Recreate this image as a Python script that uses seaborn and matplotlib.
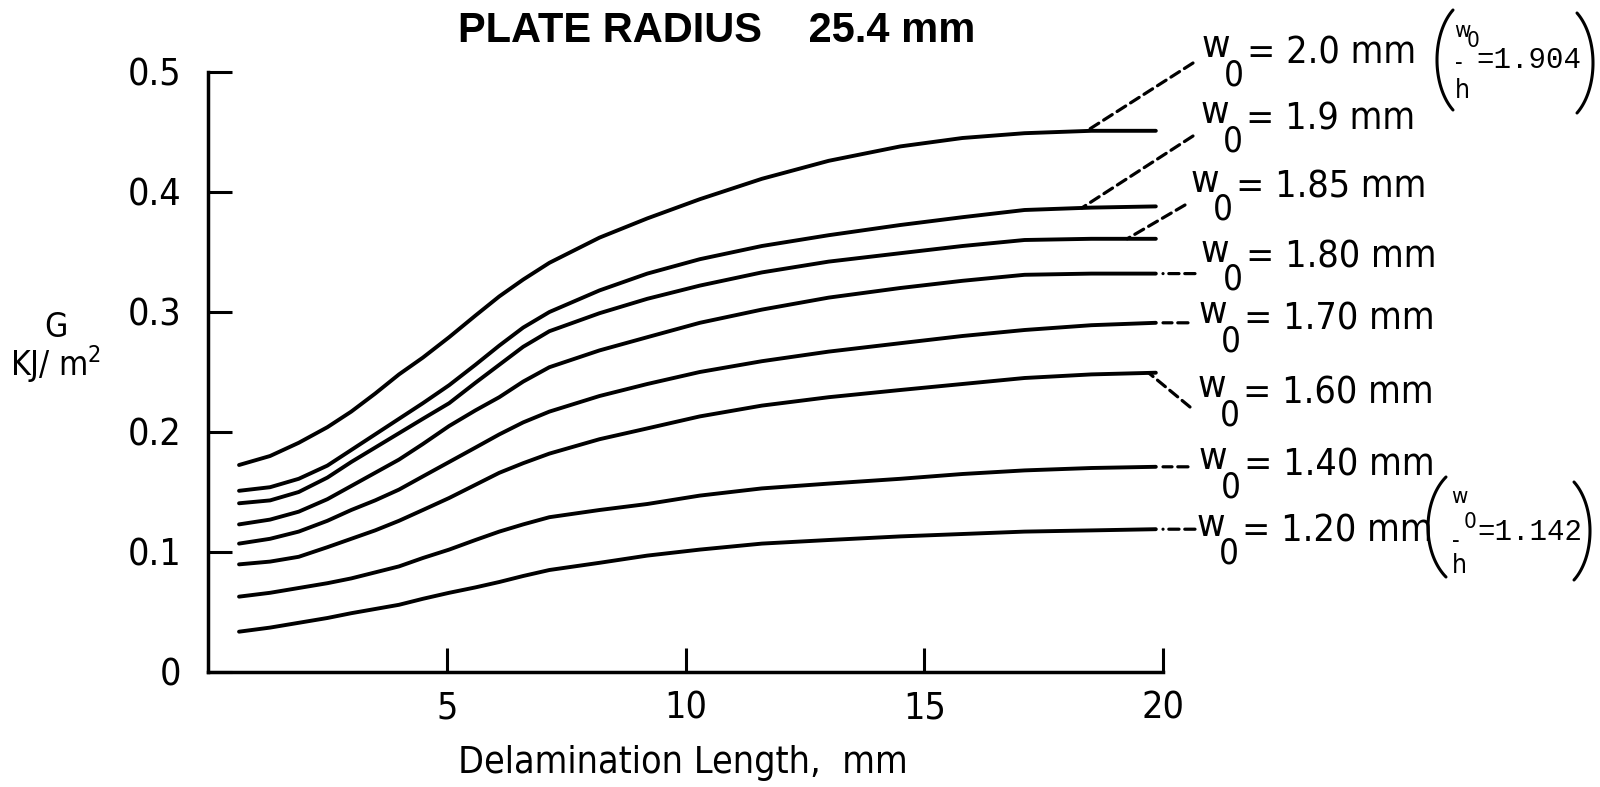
import numpy as np
import pandas as pd
import matplotlib
matplotlib.use("Agg")
import matplotlib.pyplot as plt
import seaborn as sns
from matplotlib import font_manager
from matplotlib.lines import Line2D

# ---- data -------------------------------------------------------------
DELAM_MM = [0.65, 1.3, 1.9, 2.5, 3.0, 3.5, 4.0, 4.5, 5.05, 5.6, 6.1, 6.6,
            7.15, 8.2, 9.2, 10.3, 11.6, 13.0, 14.5, 15.8, 17.1, 18.5, 19.85]

W0_MM = ["2.0", "1.9", "1.85", "1.80", "1.70", "1.60", "1.40", "1.20"]

G_W200 = [0.1725, 0.180, 0.191, 0.204, 0.217, 0.232, 0.248, 0.262, 0.279, 0.297, 0.313, 0.327,
          0.341, 0.362, 0.378, 0.394, 0.411, 0.426, 0.438, 0.445, 0.449, 0.451, 0.451]
G_W190 = [0.151, 0.154, 0.161, 0.172, 0.185, 0.198, 0.211, 0.224, 0.239, 0.256, 0.272, 0.287,
          0.300, 0.318, 0.332, 0.344, 0.355, 0.364, 0.3725, 0.379, 0.385, 0.387, 0.388]
G_W185 = [0.1406, 0.143, 0.150, 0.162, 0.175, 0.187, 0.199, 0.211, 0.224, 0.241, 0.256, 0.271,
          0.284, 0.299, 0.311, 0.322, 0.333, 0.342, 0.349, 0.355, 0.360, 0.361, 0.361]
G_W180 = [0.123, 0.127, 0.1336, 0.144, 0.155, 0.166, 0.177, 0.190, 0.205, 0.218, 0.229, 0.242,
          0.254, 0.268, 0.279, 0.291, 0.302, 0.312, 0.320, 0.326, 0.331, 0.332, 0.332]
G_W170 = [0.107, 0.111, 0.117, 0.126, 0.135, 0.143, 0.152, 0.163, 0.175, 0.187, 0.198, 0.208,
          0.217, 0.230, 0.240, 0.250, 0.259, 0.267, 0.274, 0.280, 0.285, 0.289, 0.291]
G_W160 = [0.0897, 0.092, 0.096, 0.104, 0.111, 0.118, 0.126, 0.135, 0.145, 0.156, 0.166, 0.174,
          0.182, 0.194, 0.203, 0.213, 0.222, 0.229, 0.235, 0.240, 0.245, 0.248, 0.2494]
G_W140 = [0.0628, 0.066, 0.070, 0.074, 0.078, 0.083, 0.088, 0.095, 0.102, 0.110, 0.117, 0.123,
          0.129, 0.135, 0.140, 0.147, 0.153, 0.157, 0.161, 0.165, 0.168, 0.170, 0.171]
G_W120 = [0.0336, 0.037, 0.041, 0.045, 0.049, 0.0525, 0.056, 0.061, 0.066, 0.0705, 0.075, 0.080,
          0.085, 0.091, 0.097, 0.102, 0.107, 0.110, 0.113, 0.115, 0.117, 0.118, 0.119]
G_SERIES = [G_W200, G_W190, G_W185, G_W180, G_W170, G_W160, G_W140, G_W120]

X_TICKS = [5, 10, 15, 20]
Y_TICKS = [0, 0.1, 0.2, 0.3, 0.4, 0.5]
Y_TICK_LABELS = ["0", "0.1", "0.2", "0.3", "0.4", "0.5"]

TITLE = "PLATE RADIUS    25.4 mm"
X_LABEL = "Delamination Length,  mm"
Y_LABEL = "G\nKJ/ m$^2$"
RATIO_2_0 = "1.904"
RATIO_1_20 = "1.142"

# ---- style ------------------------------------------------------------
sns.set_style("ticks")
installed = {f.name for f in font_manager.fontManager.ttflist}
if "Liberation Sans Narrow" in installed:
    NARROW = "Liberation Sans Narrow"
    STRETCH = "normal"
else:
    NARROW = "DejaVu Sans"
    STRETCH = "condensed"
plt.rcParams["font.family"] = [NARROW, "DejaVu Sans"]
plt.rcParams["font.stretch"] = STRETCH
plt.rcParams["text.color"] = "black"
plt.rcParams["axes.labelcolor"] = "black"
plt.rcParams["mathtext.fontset"] = "dejavusans"

W, H = 1600, 787
fig = plt.figure(figsize=(W / 100, H / 100), dpi=100)
fig.patch.set_facecolor("white")


def fx(px):
    return px / W


def fy(py):
    return 1 - py / H


ax = fig.add_axes([fx(208), fy(672), 955 / W, 600 / H])

rows = []
for lab, vals in zip(W0_MM, G_SERIES):
    for a, g in zip(DELAM_MM, vals):
        rows.append({"a": a, "G": g, "w0": lab})
df = pd.DataFrame(rows)

sns.lineplot(data=df, x="a", y="G", hue="w0", hue_order=W0_MM,
             palette=["black"] * len(W0_MM), legend=False, lw=2.8,
             ax=ax, solid_capstyle="round", solid_joinstyle="round")

ax.set_xlim(0, 20)
ax.set_ylim(0, 0.5)
ax.set_xticks(X_TICKS)
ax.set_xticklabels([str(t) for t in X_TICKS])
ax.set_yticks(Y_TICKS)
ax.set_yticklabels(Y_TICK_LABELS)
ax.tick_params(axis="both", direction="in", length=17, width=2.2,
               labelsize=27, colors="black")
ax.tick_params(axis="y", pad=19)
ax.tick_params(axis="x", pad=13)
for side in ("top", "right"):
    ax.spines[side].set_visible(False)
for side in ("left", "bottom"):
    ax.spines[side].set_linewidth(2.5)
    ax.spines[side].set_color("black")
ax.set_facecolor("white")

ax.set_xlabel(X_LABEL, fontsize=27, va="baseline", color="black")
ax.xaxis.set_label_coords(0.497, (672 - 773) / 600)
ax.set_ylabel(Y_LABEL, fontsize=24, rotation=0, ha="center", va="center",
              multialignment="center", linespacing=0.95, color="black")
ax.yaxis.set_label_coords((56 - 208) / 955, (672 - 348) / 600)

fig.text(fx(717), fy(42), TITLE, ha="center", va="baseline",
         fontsize=30, fontweight="bold", family="Liberation Sans",
         fontstretch="normal")

# ---- leader lines from curve ends to the labels ---------------------
leader_start_x = [18.4, 18.3, 19.25, 20.0, 20.0, 19.7, 20.0, 20.0]
leader_end = [(1193, 63), (1193, 136), (1185, 205), (1195, None),
              (1188, None), (1190, 407), (1188, None), (1195, None)]
dash = (0, (3.2, 1.8))
for sx, (ex, ey), vals in zip(leader_start_x, leader_end, G_SERIES):
    sy = float(np.interp(sx, DELAM_MM, vals))
    props = dict(arrowstyle="-", color="black", lw=2.3, linestyle=dash,
                 shrinkA=0, shrinkB=0)
    if ey is None:
        ax.annotate("", xy=(sx, sy), xycoords="data",
                    xytext=(ex, sy), textcoords=("figure pixels", "data"),
                    arrowprops=props, annotation_clip=False)
    else:
        ax.annotate("", xy=(sx, sy), xycoords="data",
                    xytext=(ex, H - ey), textcoords="figure pixels",
                    arrowprops=props, annotation_clip=False)

# ---- curve labels -------------------------------------------------------
label_left = [1202, 1201, 1191, 1201, 1199, 1198, 1199, 1197]
label_mid = [50, 116, 185, 255, 316, 390, 462, 529]
for lab, xl, yc in zip(W0_MM, label_left, label_mid):
    base = yc + 13
    fig.text(fx(xl), fy(base - 6), "w", fontsize=28, va="baseline", ha="left")
    fig.text(fx(xl + 22), fy(base + 22), "0", fontsize=25, va="baseline", ha="left")
    fig.text(fx(xl + 45), fy(base), "= " + lab + " mm", fontsize=27,
             va="baseline", ha="left")


def paren(x_edge, cy, half_h, side, depth=16.0, theta0=55.0):
    t0 = np.radians(theta0)
    a = depth / (1 - np.cos(t0))
    b = half_h / np.sin(t0)
    t = np.linspace(-t0, t0, 60)
    if side == "left":
        xs = x_edge + a - a * np.cos(t)
    else:
        xs = x_edge - a + a * np.cos(t)
    ys = cy + b * np.sin(t)
    fig.add_artist(Line2D(fx(xs), fy(ys), transform=fig.transFigure,
                          lw=2.2, color="black", solid_capstyle="round"))


def ratio_block(x_left, y_w, y_0, y_bar, y_h, x_eq, y_eq, value):
    fig.text(fx(x_left), fy(y_w), "w", fontsize=16, va="baseline", ha="left")
    fig.text(fx(x_left + 13), fy(y_0), "0", fontsize=16, va="baseline", ha="left")
    fig.text(fx(x_left + 1), fy(y_bar), "-", fontsize=17, va="baseline", ha="left")
    fig.text(fx(x_left + 1), fy(y_h), "h", fontsize=19, va="baseline", ha="left")
    fig.text(fx(x_eq), fy(y_eq), "=" + value, fontsize=21, va="baseline",
             ha="left", family="Liberation Mono", fontstretch="normal")


paren(1437, 60, 50, "left")
paren(1593, 63, 50, "right")
ratio_block(1454, 37, 47, 70, 98, 1476, 68, RATIO_2_0)

paren(1428, 527, 50, "left", depth=18)
paren(1590, 531, 49, "right")
ratio_block(1451, 503, 528, 548, 573, 1477, 540, RATIO_1_20)

fig.savefig("out.png", dpi=100, facecolor="white")
